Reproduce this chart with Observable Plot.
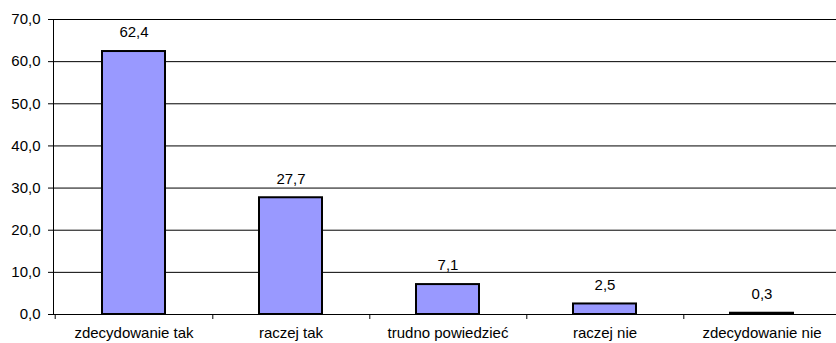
<!DOCTYPE html>
<html>
<head>
<meta charset="utf-8">
<script src="https://cdn.jsdelivr.net/npm/d3@7"></script>
<script src="https://cdn.jsdelivr.net/npm/@observablehq/plot@0.6"></script>
<style>
  html, body { margin: 0; padding: 0; background: #fff; }
  #chart svg { display: block; }
</style>
</head>
<body>
<div id="chart"></div>
<script>
// Answer categories and percentage of responses
const categories = ["zdecydowanie tak", "raczej tak", "trudno powiedzieć", "raczej nie", "zdecydowanie nie"];
const values = [62.4, 27.7, 7.1, 2.5, 0.3];
const yTicks = [0, 10, 20, 30, 40, 50, 60, 70];

const data = categories.map((category, i) => ({category, value: values[i]}));

const fmt = d => d.toFixed(1).replace(".", ",");

const W = 836, H = 343;
const xRange = [53, 841];            // last band runs past the visible edge
const step = (xRange[1] - xRange[0]) / categories.length;

const chart = Plot.plot({
  width: W,
  height: H,
  marginLeft: 53,
  marginRight: 0,
  marginTop: 19,
  marginBottom: 29,
  style: {fontFamily: "'Liberation Sans', Arial, sans-serif", fontSize: "15px", color: "#000", background: "#fff"},
  x: {type: "band", domain: categories, range: xRange, paddingInner: 0.6, paddingOuter: 0.3},
  y: {type: "linear", domain: [0, 70]},
  marks: [
    Plot.ruleY(yTicks, {stroke: "#000", strokeWidth: 1}),
    Plot.frame({anchor: "left", stroke: "#000"}),
    Plot.axisY({ticks: yTicks, tickSize: 5, tickPadding: 8, tickFormat: fmt, label: null, stroke: "#000"}),
    // boundary ticks between categories
    Plot.axisX({tickSize: 5, text: null, dx: step / 2, label: null, stroke: "#000"}),
    Plot.axisX([categories[0]], {tickSize: 5, text: null, dx: -step / 2, label: null, stroke: "#000"}),
    // category labels
    Plot.axisX({tickSize: 0, tickPadding: 13, label: null}),
    Plot.barY(data, {x: "category", y: "value", fill: "#9999FF", stroke: "#000", strokeWidth: 2}),
    Plot.text(data, {x: "category", y: "value", text: d => fmt(d.value), dy: -19, fill: "#000"})
  ]
});

document.getElementById("chart").appendChild(chart);
</script>
</body>
</html>
